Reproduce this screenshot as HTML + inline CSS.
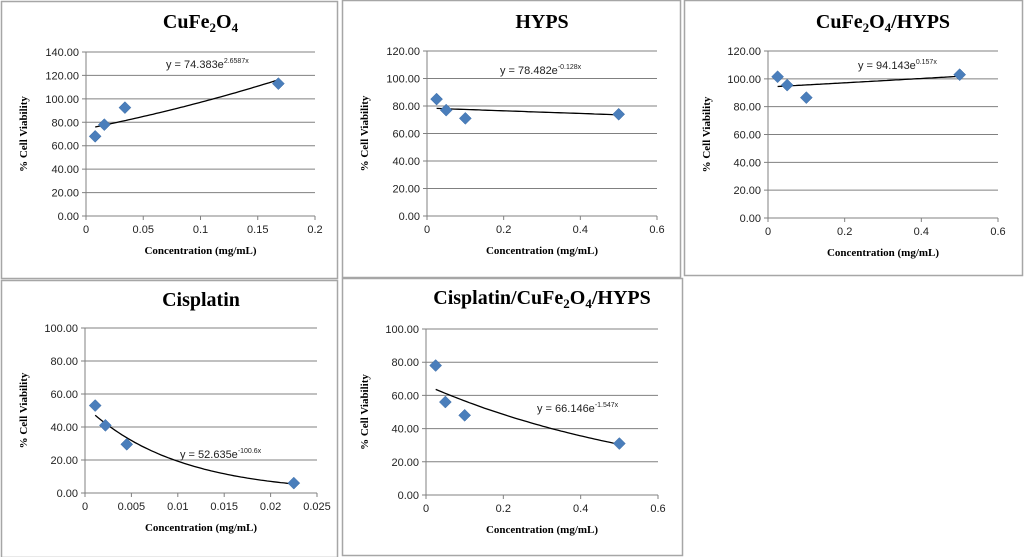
<!DOCTYPE html>
<html><head><meta charset="utf-8"><style>
body{margin:0;background:#fff;width:1024px;height:557px;overflow:hidden;position:relative}
svg{position:absolute;left:0;top:0}
</style></head><body>
<svg id="s" width="1024" height="557"></svg>
<script>
const titles=["CuFe2O4","HYPS","CuFe2O4/HYPS","Cisplatin","Cisplatin/CuFe2O4/HYPS"];
const xs1=[0.008,0.016,0.034,0.168], ys1=[68,78,92.5,113];
const xs2=[0.025,0.05,0.1,0.5], ys2=[85,77,71,74];
const xs3=[0.025,0.05,0.1,0.5], ys3=[101.5,95.5,86.5,103];
const xs4=[0.0011,0.0022,0.0045,0.0225], ys4=[53,41,29.5,6];
const xs5=[0.025,0.05,0.1,0.5], ys5=[78,56,48,31];
const fitA=[74.383,78.482,94.143,52.635,66.146];
const fitB=[2.6587,-0.128,0.157,-100.6,-1.547];
const fitLabelA=["74.383","78.482","94.143","52.635","66.146"];
const fitLabelB=["2.6587x","-0.128x","0.157x","-100.6x","-1.547x"];
const xTicks1=["0","0.05","0.1","0.15","0.2"], xTicks2=["0","0.2","0.4","0.6"], xTicks4=["0","0.005","0.01","0.015","0.02","0.025"];
const yTicks1=["0.00","20.00","40.00","60.00","80.00","100.00","120.00","140.00"];
const yTicks2=["0.00","20.00","40.00","60.00","80.00","100.00","120.00"];
const yTicks4=["0.00","20.00","40.00","60.00","80.00","100.00"];
const NS="http://www.w3.org/2000/svg";
const svg=document.getElementById('s');
function el(t,a,p){const e=document.createElementNS(NS,t);for(const k in a)e.setAttribute(k,a[k]);(p||svg).appendChild(e);return e;}
const panels=[
 {box:[1,1,336,277],px:[86,315],py:[216,52],xt:xTicks1,yt:yTicks1,xs:xs1,ys:ys1,lab:[166,68],ty:28},
 {box:[342,0,338,277],px:[427,657],py:[216,51],xt:xTicks2,yt:yTicks2,xs:xs2,ys:ys2,lab:[500,74],ty:28},
 {box:[684,0,338,275],px:[768,998],py:[218,51],xt:xTicks2,yt:yTicks2,xs:xs3,ys:ys3,lab:[858,69],ty:28},
 {box:[1,280,336,277],px:[85,317],py:[493,328],xt:xTicks4,yt:yTicks4,xs:xs4,ys:ys4,lab:[180,458],ty:306},
 {box:[342,278,340,277],px:[426,658],py:[495,329],xt:xTicks2,yt:yTicks4,xs:xs5,ys:ys5,lab:[537,412],ty:304}
];
panels.forEach((p,i)=>{
 const g=el('g',{});
 
 
 const r=el('rect',{x:p.box[0]+0.5,y:p.box[1]+0.5,width:p.box[2],height:p.box[3],fill:'#fff',stroke:'#a6a6a6','stroke-width':1.5},g);
 
 
 const xmax=parseFloat(p.xt[p.xt.length-1]), ymax=parseFloat(p.yt[p.yt.length-1]);
 const X=v=>p.px[0]+(p.px[1]-p.px[0])*v/xmax;
 const Y=v=>p.py[0]+(p.py[1]-p.py[0])*v/ymax;
 p.yt.forEach(t=>{const v=parseFloat(t);const y=Y(v);
  const gl=el('line',{x1:p.px[0]-4,x2:p.px[1],y1:y,y2:y,stroke:'#808080','stroke-width':1},g);
  
  
  const tx=el('text',{x:p.px[0]-7,y:y+4,'text-anchor':'end','font-size':11,'font-family':'Liberation Sans, sans-serif',fill:'#222'},g);tx.textContent=t;
  
  });
 el('line',{x1:p.px[0],x2:p.px[0],y1:p.py[1],y2:p.py[0],stroke:'#808080'},g);
 p.xt.forEach(t=>{const x=X(parseFloat(t));
  el('line',{x1:x,x2:x,y1:p.py[0],y2:p.py[0]+4,stroke:'#808080'},g);
  const tx=el('text',{x:x,y:p.py[0]+17,'text-anchor':'middle','font-size':11,'font-family':'Liberation Sans, sans-serif',fill:'#222'},g);tx.textContent=t;
  
  });
 const ti=el('text',{x:(p.px[0]+p.px[1])/2,y:p.ty,'text-anchor':'middle','font-size':20,'font-weight':'bold','font-family':'Liberation Serif, serif'},g);
 let html='';const parts=titles[i].split(/(\d)/);
 parts.forEach(s=>{if(!s)return;if(/\d/.test(s))html+='<tspan font-size="13" baseline-shift="-4">'+s+'</tspan>';else html+='<tspan>'+s+'</tspan>';});
 ti.innerHTML=html;
 
 
 const xl=el('text',{x:(p.px[0]+p.px[1])/2,y:p.py[0]+38,'text-anchor':'middle','font-size':11,'font-weight':'bold','font-family':'Liberation Serif, serif'},g);xl.textContent='Concentration (mg/mL)';
 
 
 const ym=(p.py[0]+p.py[1])/2, yx=p.box[0]+26;
 const yl=el('text',{x:yx,y:ym,'text-anchor':'middle','font-size':11,'font-weight':'bold','font-family':'Liberation Serif, serif',transform:`rotate(-90 ${yx} ${ym})`},g);yl.textContent='% Cell Viability';
 
 
 const x0=p.xs[0],x1=p.xs[p.xs.length-1];let d='';
 for(let k=0;k<=60;k++){const xv=x0+(x1-x0)*k/60;const yv=fitA[i]*Math.exp(fitB[i]*xv);d+=(k?'L':'M')+X(xv).toFixed(1)+' '+Y(yv).toFixed(1);}
 const tl=el('path',{d:d,fill:'none',stroke:'#000','stroke-width':1.3},g);
 
 
 p.xs.forEach((xv,k)=>{const x=X(xv),y=Y(p.ys[k]);
  const m=el('path',{d:`M${x} ${y-6}L${x+6} ${y}L${x} ${y+6}L${x-6} ${y}Z`,fill:'#4a7ebb',stroke:'#3a6aa5','stroke-width':0.5},g);
  
  });
 const eq=el('text',{x:p.lab[0],y:p.lab[1],'font-size':11,'font-family':'Liberation Sans, sans-serif',fill:'#222'},g);
 eq.innerHTML='y = '+fitLabelA[i]+'e<tspan font-size="7" baseline-shift="5">'+fitLabelB[i]+'</tspan>';
 
 
});
</script>
</body></html>
